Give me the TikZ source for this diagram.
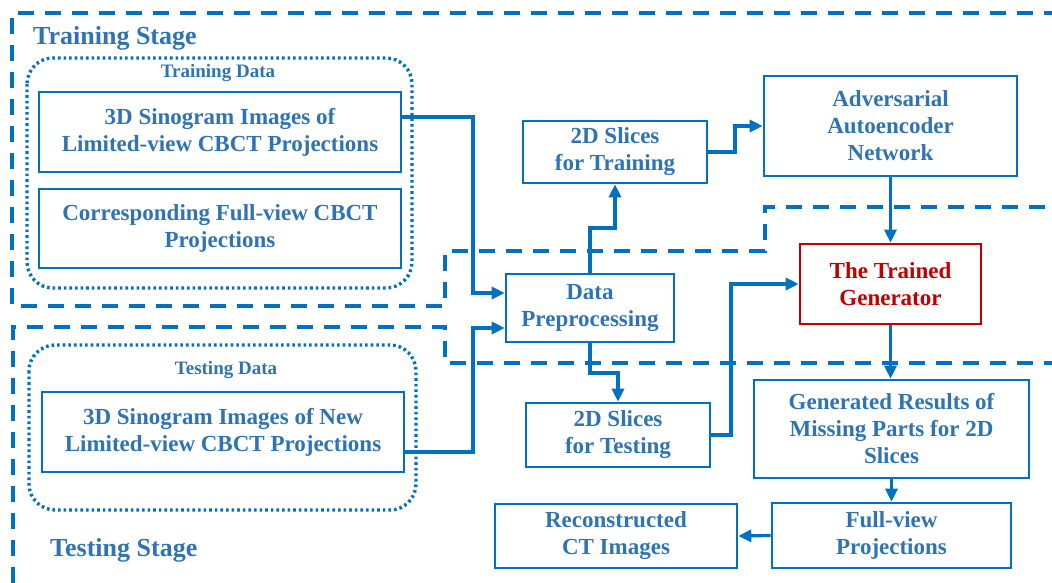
\documentclass[tikz,border=0pt]{standalone}
\usepackage{fontspec}
\setmainfont{Liberation Serif}
\usetikzlibrary{arrows.meta}
\definecolor{lineblue}{RGB}{0,112,192}
\definecolor{textblue}{RGB}{46,116,181}
\definecolor{genred}{RGB}{192,0,0}
\tikzset{
  box/.style={draw=lineblue, line width=2.6pt, align=center, text=textblue,
    font=\fontsize{23}{27}\selectfont\bfseries, inner sep=0pt},
  redbox/.style={box, draw=genred, text=genred},
  arr/.style={draw=lineblue, line width=3.2pt, -{Triangle[length=13pt,width=12pt]}},
  stageline/.style={draw=lineblue, line width=4pt, dash pattern=on 16pt off 11pt},
  dotline/.style={draw=lineblue, line width=3.4pt, dash pattern=on 2.6pt off 3pt, rounded corners=26pt},
  stagelabel/.style={text=textblue, font=\fontsize{26}{30}\selectfont\bfseries, anchor=west, inner sep=0pt},
  datalabel/.style={text=textblue, font=\fontsize{19}{22}\selectfont\bfseries, inner sep=0pt}
}
\begin{document}
\begin{tikzpicture}[x=1pt,y=-1pt]
\useasboundingbox[fill=white] (0,0) rectangle (1052,582);

% stage regions
\draw[stageline] (1060,13) -- (12,13) -- (12,306) -- (445,306) -- (445,251) -- (765,251) -- (765,207) -- (1060,207);
\draw[stageline] (1060,363) -- (445,363) -- (445,327) -- (13,327) -- (13,590);
\node[stagelabel] (trstage) at (33,38) {Training Stage};
\node[stagelabel] (tsstage) at (50,550) {Testing Stage};

% data groups
\draw[dotline] (27,58) rectangle (412,288);
\draw[dotline] (29,345) rectangle (416,510);
\node[datalabel] (trdata) at (218,73) {Training Data};
\node[datalabel] (tsdata) at (226,370) {Testing Data};

% boxes
\node[box, minimum width=362pt, minimum height=80pt] (sinoA) at (220,132) {3D Sinogram Images of\\Limited-view CBCT Projections};
\node[box, minimum width=362pt, minimum height=79pt] (corr) at (220,228.5) {Corresponding Full-view CBCT\\Projections};
\node[box, minimum width=362pt, minimum height=80pt] (sinoN) at (223,432) {3D Sinogram Images of New\\Limited-view CBCT Projections};
\node[box, minimum width=168pt, minimum height=68pt] (dp) at (590,308) {Data\\Preprocessing};
\node[box, minimum width=184pt, minimum height=62pt] (trn) at (615,152) {2D Slices\\for Training};
\node[box, minimum width=253pt, minimum height=100pt] (aae) at (890.5,126) {Adversarial\\Autoencoder\\Network};
\node[redbox, minimum width=181pt, minimum height=80pt] (gen) at (890.5,284) {The Trained\\Generator};
\node[box, minimum width=184pt, minimum height=64pt] (tst) at (618,435) {2D Slices\\for Testing};
\node[box, minimum width=275pt, minimum height=98pt] (res) at (891.5,429) {Generated Results of\\Missing Parts for 2D\\Slices};
\node[box, minimum width=239pt, minimum height=65pt] (full) at (891.5,535.5) {Full-view\\Projections};
\node[box, minimum width=242pt, minimum height=64pt] (rec) at (616,536) {Reconstructed\\CT Images};

% connectors
\draw[arr] (sinoA.east |- 0,117) -| (473,293) -- (dp.west |- 0,293);
\draw[arr] (sinoN.east |- 0,452) -| (473,328) -- (dp.west |- 0,328);
\draw[arr] (dp.north) -- (590,228) -| (trn.south);
\draw[arr] (trn.east) -- (735,152) |- (aae.west);
\draw[arr] (aae.south) -- (gen.north);
\draw[arr] (gen.south) -- (gen.south |- res.north);
\draw[arr] (dp.south) -- (590,373) -| (tst.north);
\draw[arr] (tst.east) -- (731,435) |- (gen.west);
\draw[arr] (res.south) -- (res.south |- full.north);
\draw[arr] (full.west) -- (rec.east);
\end{tikzpicture}
\end{document}
